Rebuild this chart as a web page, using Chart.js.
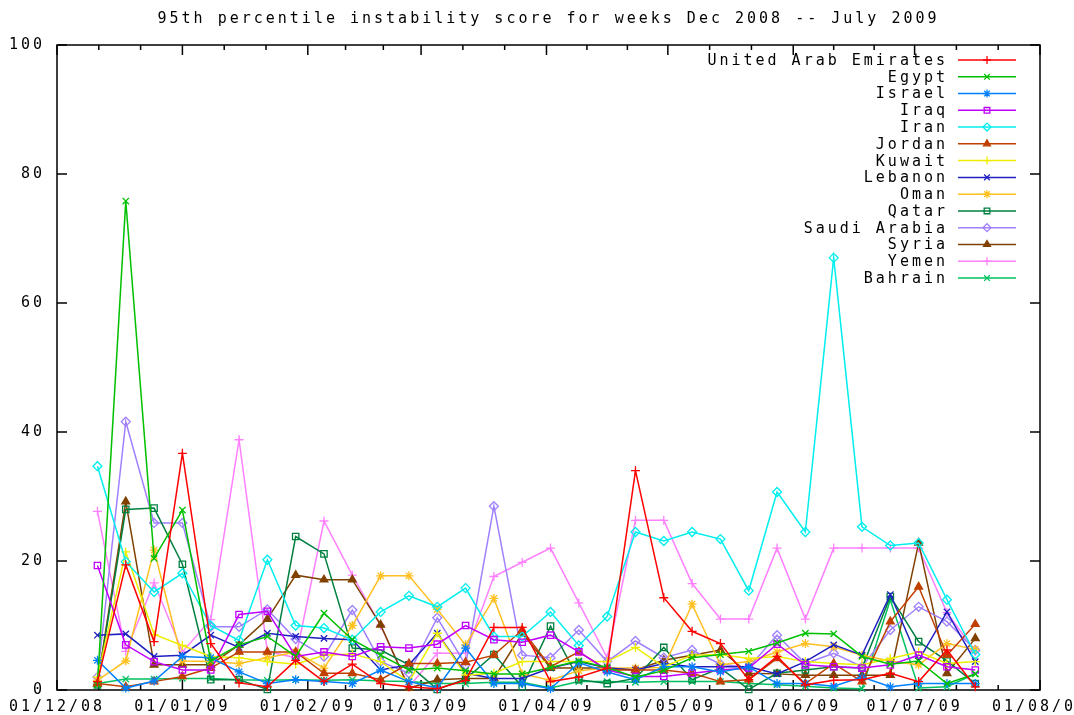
<!DOCTYPE html>
<html lang="en">
<head>
<meta charset="UTF-8">
<title>95th percentile instability score</title>
<script src="https://cdn.jsdelivr.net/npm/chart.js"></script>
<style>
  body { margin: 0; background: #fff; }
  #wrap { width: 1074px; height: 715px; }
</style>
</head>
<body>
<div id="wrap"><canvas id="chart"></canvas></div>
<script>
// weekly samples, Dec 2008 - July 2009
const weeks = [
  '2008-12-11', '2008-12-18', '2008-12-25', '2009-01-01', '2009-01-08', '2009-01-15', '2009-01-22', '2009-01-29',
  '2009-02-05', '2009-02-12', '2009-02-19', '2009-02-26', '2009-03-05', '2009-03-12', '2009-03-19', '2009-03-26',
  '2009-04-02', '2009-04-09', '2009-04-16', '2009-04-23', '2009-04-30', '2009-05-07', '2009-05-14', '2009-05-21',
  '2009-05-28', '2009-06-04', '2009-06-11', '2009-06-18', '2009-06-25', '2009-07-02', '2009-07-09', '2009-07-16'
];
const monthTicks = ['2008-12-01', '2009-01-01', '2009-02-01', '2009-03-01', '2009-04-01', '2009-05-01', '2009-06-01', '2009-07-01', '2009-08-01'];
const monthLabels = ['01/12/08', '01/01/09', '01/02/09', '01/03/09', '01/04/09', '01/05/09', '01/06/09', '01/07/09', '01/08/09'];
const yTicks = [0, 20, 40, 60, 80, 100];

const uae     = [1.3, 19.4, 7.5, 36.7, 7.2, 1.1, 0.5, 4.6, 1.3, 4.0, 1.0, 0.5, 0.2, 1.5, 9.7, 9.7, 1.3, 2.0, 3.4, 34.0, 14.3, 9.1, 7.2, 1.6, 5.2, 0.8, 1.5, 1.6, 2.6, 1.3, 6.2, 0.5];
const egypt   = [0.8, 75.8, 20.4, 27.9, 4.5, 7.0, 8.3, 5.2, 11.9, 7.8, 5.4, 3.1, 3.4, 3.0, 2.5, 2.5, 3.5, 4.5, 3.5, 2.0, 3.0, 5.0, 5.5, 6.0, 7.3, 8.8, 8.7, 5.2, 4.0, 4.5, 1.0, 2.5];
const israel  = [4.6, 0.3, 1.4, 5.2, 5.0, 2.8, 1.0, 1.6, 1.3, 1.0, 3.1, 1.3, 0.3, 6.5, 1.0, 1.0, 0.2, 4.2, 2.8, 1.6, 3.6, 3.6, 2.8, 3.6, 1.0, 1.0, 0.6, 2.0, 0.5, 1.0, 1.0, 1.0];
const iraq    = [19.3, 7.0, 4.4, 3.1, 3.1, 11.7, 12.2, 5.2, 5.9, 5.2, 6.7, 6.5, 7.1, 10.0, 7.8, 7.4, 8.5, 5.9, 3.1, 2.1, 2.1, 2.6, 3.1, 3.4, 7.1, 3.9, 3.6, 3.4, 3.9, 5.4, 3.6, 3.1];
const iran    = [34.7, 19.9, 15.2, 18.1, 10.0, 7.7, 20.2, 10.0, 9.6, 7.8, 12.1, 14.6, 12.9, 15.8, 8.3, 8.3, 12.1, 6.9, 11.4, 24.5, 23.1, 24.5, 23.4, 15.4, 30.7, 24.5, 67.0, 25.3, 22.4, 22.8, 14.0, 5.5];
const jordan  = [1.0, 0.5, 1.3, 2.1, 3.4, 5.9, 5.9, 5.9, 2.6, 2.6, 1.6, 4.1, 4.1, 4.3, 5.4, 9.3, 3.6, 5.9, 3.1, 3.1, 3.1, 2.6, 1.3, 1.6, 4.9, 1.0, 4.1, 1.3, 10.6, 16.0, 5.4, 10.2];
const kuwait  = [2.0, 21.4, 8.6, 6.9, 5.2, 5.0, 4.4, 4.0, 5.4, 5.6, 4.4, 1.3, 8.8, 2.3, 2.6, 4.4, 4.4, 4.4, 4.4, 6.6, 3.6, 5.4, 5.5, 4.9, 5.2, 4.4, 4.1, 3.9, 4.9, 5.9, 4.1, 4.4];
const lebanon = [8.5, 8.7, 5.2, 5.4, 8.5, 6.6, 8.8, 8.3, 8.0, 7.8, 3.1, 3.9, 8.8, 2.6, 1.8, 1.8, 3.4, 4.4, 3.4, 3.1, 4.1, 3.6, 3.6, 3.6, 2.5, 4.4, 7.0, 5.4, 14.8, 4.6, 12.1, 4.4];
const oman    = [1.5, 4.5, 21.7, 4.5, 4.4, 4.1, 5.0, 5.9, 3.4, 10.0, 17.7, 17.7, 12.5, 7.0, 14.2, 2.5, 1.5, 3.0, 3.4, 3.4, 3.5, 13.3, 3.9, 4.4, 5.9, 7.2, 6.7, 5.4, 4.5, 3.9, 7.2, 6.3];
const qatar   = [0.8, 28.0, 28.2, 19.5, 1.6, 1.6, 0.1, 23.8, 21.1, 6.5, 6.2, 3.9, 0.1, 1.7, 5.5, 0.5, 9.9, 1.6, 1.0, 1.8, 6.6, 1.6, 3.4, 0.1, 2.6, 3.1, 3.6, 3.4, 14.5, 7.5, 4.5, 1.0];
const saudi   = [2.0, 41.6, 25.9, 25.9, 9.8, 9.8, 12.5, 7.9, 5.2, 12.4, 4.4, 2.6, 11.2, 3.9, 28.5, 5.4, 5.0, 9.3, 4.4, 7.6, 5.0, 6.2, 4.0, 3.5, 8.5, 4.1, 5.7, 3.6, 9.3, 12.9, 10.6, 6.2];
const syria   = [1.0, 29.2, 3.9, 3.9, 3.9, 7.0, 11.0, 17.8, 17.1, 17.1, 10.1, 0.3, 1.6, 1.8, 1.8, 8.8, 3.4, 3.4, 3.4, 3.1, 4.6, 5.4, 6.2, 2.6, 2.5, 2.3, 2.3, 2.3, 2.3, 22.8, 2.6, 8.0];
const yemen   = [27.7, 6.0, 16.6, 5.9, 10.9, 38.8, 6.0, 5.0, 26.2, 17.8, 10.0, 0.5, 5.7, 5.7, 17.6, 19.8, 22.0, 13.5, 5.0, 26.3, 26.3, 16.5, 11.0, 11.0, 22.0, 11.0, 22.0, 22.0, 22.0, 22.0, 12.0, 6.0];
const bahrain = [1.0, 1.7, 1.7, 1.8, 1.8, 1.6, 1.5, 1.6, 1.5, 1.6, 1.4, 1.3, 1.0, 1.0, 1.2, 1.2, 0.3, 1.3, 1.3, 1.2, 1.3, 1.3, 1.3, 1.0, 0.8, 0.6, 0.3, 0.2, 14.0, 0.3, 0.5, 2.5];

const countries = ['United Arab Emirates', 'Egypt', 'Israel', 'Iraq', 'Iran', 'Jordan', 'Kuwait',
                   'Lebanon', 'Oman', 'Qatar', 'Saudi Arabia', 'Syria', 'Yemen', 'Bahrain'];
const series = [uae, egypt, israel, iraq, iran, jordan, kuwait, lebanon, oman, qatar, saudi, syria, yemen, bahrain];

// gnuplot png palette and point types
const colors = ['#ff0000', '#00c000', '#0080ff', '#c000ff', '#00eeee', '#c04000', '#eeee00',
                '#2020c0', '#ffc020', '#008040', '#a080ff', '#804000', '#ff80ff', '#00c060'];
const markers = ['cross', 'crossRot', 'star', 'rect', 'rectRot', 'triangle',
                 'cross', 'crossRot', 'star', 'rect', 'rectRot', 'triangle', 'cross', 'crossRot'];

const MONO = '"DejaVu Sans Mono", "Liberation Mono", monospace';
const DAY = 86400000;
const t0 = Date.parse(monthTicks[0]);
const dayOf = s => (Date.parse(s) - t0) / DAY;
const monthDays = monthTicks.map(dayOf);

// border, inward ticks (gnuplot style) and key inside the plot
const gnuplotLook = {
  id: 'gnuplotLook',
  beforeUpdate(chart) { chart.ctx.letterSpacing = '3px'; },
  beforeDraw(chart) { chart.ctx.letterSpacing = '3px'; },
  beforeDatasetsDraw(chart) {
    const { ctx, chartArea: a, scales: { x, y } } = chart;
    ctx.save();
    ctx.strokeStyle = '#000';
    ctx.lineWidth = 1.5;
    ctx.strokeRect(a.left, a.top, a.right - a.left, a.bottom - a.top);
    ctx.beginPath();
    yTicks.forEach(v => {
      const py = y.getPixelForValue(v);
      ctx.moveTo(a.left, py); ctx.lineTo(a.left + 10, py);
      ctx.moveTo(a.right, py); ctx.lineTo(a.right - 10, py);
    });
    monthDays.forEach((d, i) => {
      const px = x.getPixelForValue(d);
      ctx.moveTo(px, a.bottom); ctx.lineTo(px, a.bottom - 10);
      ctx.moveTo(px, a.top); ctx.lineTo(px, a.top + 10);
      if (i < monthDays.length - 1) {
        const step = (monthDays[i + 1] - d) / 3;
        [1, 2].forEach(k => {
          const mx = x.getPixelForValue(d + k * step);
          ctx.moveTo(mx, a.bottom); ctx.lineTo(mx, a.bottom - 5);
          ctx.moveTo(mx, a.top); ctx.lineTo(mx, a.top + 5);
        });
      }
    });
    ctx.stroke();
    ctx.restore();
  },
  afterDatasetsDraw(chart) {
    const ctx = chart.ctx;
    ctx.save();
    ctx.font = '15px ' + MONO;
    ctx.textAlign = 'right';
    ctx.textBaseline = 'middle';
    chart.data.datasets.forEach((ds, i) => {
      const ly = 60 + i * 16.77;
      ctx.fillStyle = '#000';
      ctx.fillText(ds.label, 948, ly + 1);
      ctx.strokeStyle = ds.borderColor;
      ctx.lineWidth = 1.5;
      ctx.beginPath();
      ctx.moveTo(958, ly); ctx.lineTo(1016, ly);
      ctx.stroke();
      ctx.fillStyle = ds.pointBackgroundColor;
      ctx.lineWidth = ds.pointBorderWidth;
      Chart.helpers.drawPoint(ctx, { pointStyle: ds.pointStyle, rotation: 0, radius: 4, borderWidth: ds.pointBorderWidth }, 987, ly);
    });
    ctx.restore();
  }
};

Chart.defaults.font.family = MONO;

new Chart(document.getElementById('chart'), {
  type: 'line',
  data: {
    datasets: countries.map((name, i) => ({
      label: name,
      data: series[i].map((v, k) => ({ x: dayOf(weeks[k]), y: v })),
      borderColor: colors[i],
      backgroundColor: colors[i],
      borderWidth: 1.5,
      pointStyle: markers[i],
      pointRadius: 4.5,
      pointBorderWidth: 1.3,
      pointBackgroundColor: markers[i] === 'triangle' ? colors[i] : 'rgba(0,0,0,0)',
      tension: 0,
      clip: false
    }))
  },
  options: {
    responsive: true,
    maintainAspectRatio: false,
    animation: false,
    layout: { padding: { left: 0, right: 34, top: 0, bottom: 0 } },
    plugins: {
      legend: { display: false },
      tooltip: { enabled: false },
      title: {
        display: true,
        text: '95th percentile instability score for weeks Dec 2008 -- July 2009',
        color: '#000',
        font: { family: MONO, size: 15, weight: 'normal' },
        padding: { top: 10, bottom: 17 },
        fullSize: false
      }
    },
    scales: {
      x: {
        type: 'linear',
        min: 0,
        max: monthDays[monthDays.length - 1],
        grid: { display: false, drawTicks: false },
        border: { display: false },
        afterBuildTicks: scale => { scale.ticks = monthDays.map(v => ({ value: v })); },
        afterFit: scale => { scale.height = 25; scale.paddingLeft = 0; scale.paddingRight = 0; },
        ticks: {
          autoSkip: false,
          maxRotation: 0,
          padding: 8,
          color: '#000',
          font: { family: MONO, size: 15 },
          callback: (v, i) => monthLabels[i]
        }
      },
      y: {
        min: 0,
        max: 100,
        grid: { display: false, drawTicks: false },
        border: { display: false },
        afterBuildTicks: scale => { scale.ticks = yTicks.map(v => ({ value: v })); },
        afterFit: scale => { scale.width = 57; scale.paddingTop = 0; scale.paddingBottom = 0; },
        ticks: {
          padding: 12,
          color: '#000',
          font: { family: MONO, size: 15 }
        }
      }
    }
  },
  plugins: [gnuplotLook]
});
</script>
</body>
</html>
